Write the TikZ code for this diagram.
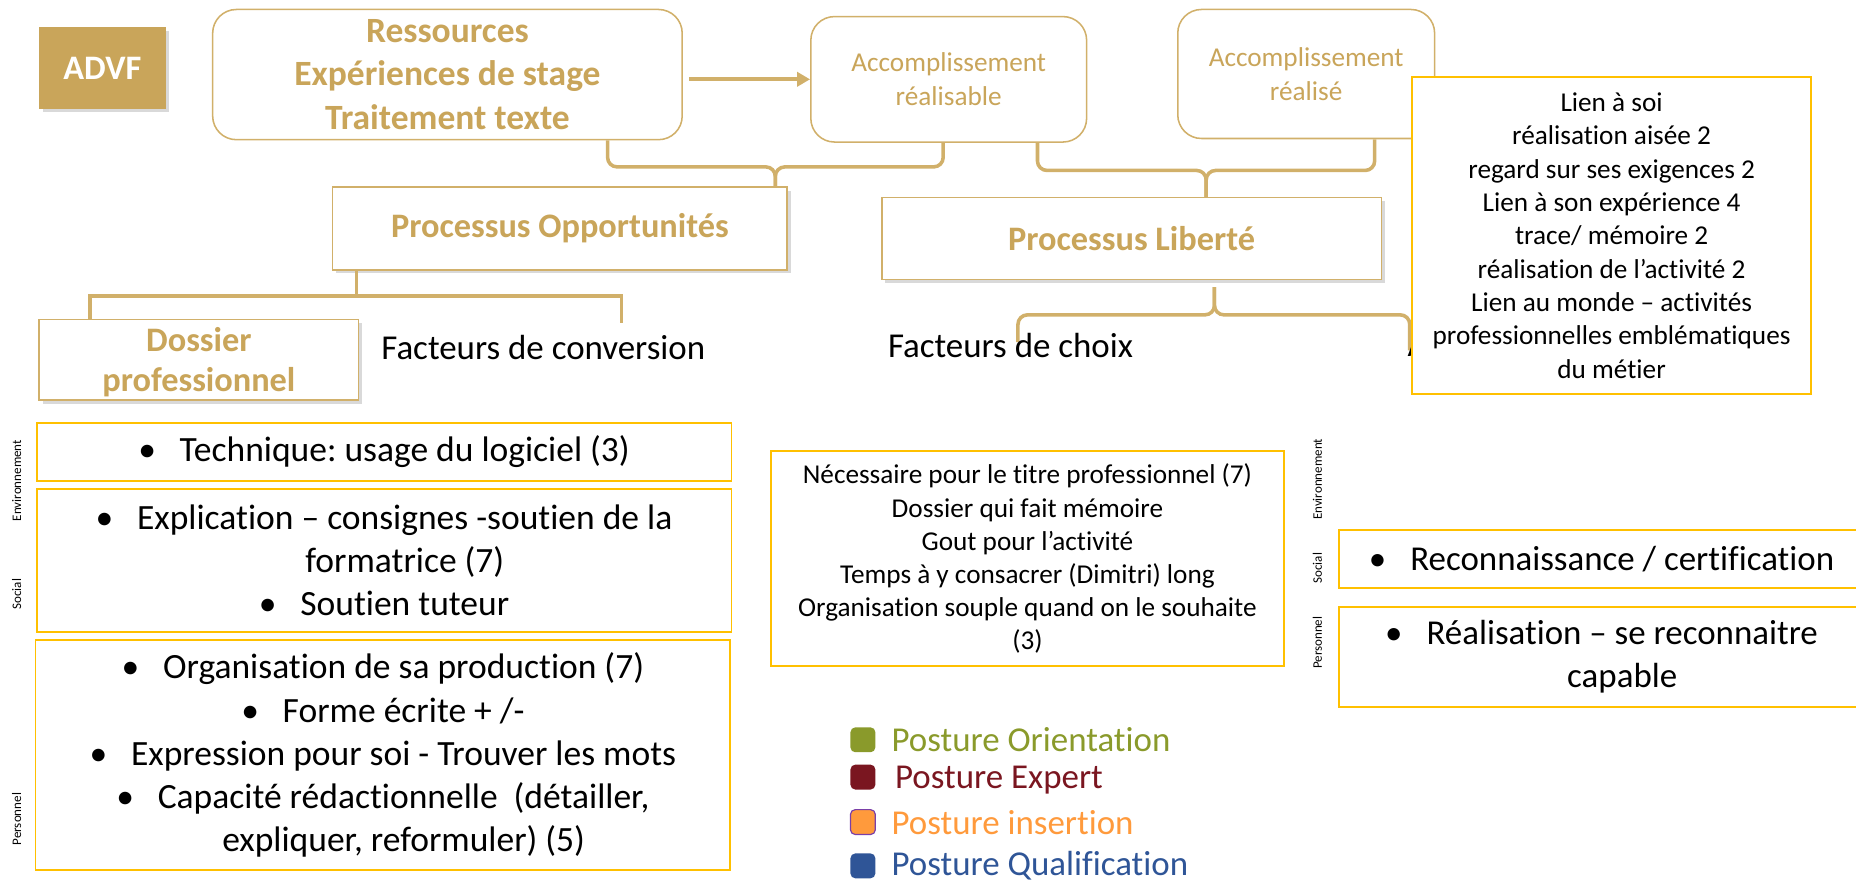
\documentclass[tikz,border=0pt]{standalone}
\usepackage{fontspec}
\setmainfont{Carlito}[Ligatures=NoCommon]
\usetikzlibrary{calc,shadows,arrows.meta}
\definecolor{gold}{HTML}{C9A55A}
\definecolor{goldline}{HTML}{D1B06A}
\definecolor{ybox}{HTML}{FFC000}
\definecolor{olive}{HTML}{8A9A2B}
\definecolor{expert}{HTML}{7A1620}
\definecolor{insertc}{HTML}{FF9A3C}
\definecolor{insertb}{HTML}{7A3FA8}
\definecolor{qualif}{HTML}{2F5597}
\newcommand{\fsz}[2]{\fontsize{#1}{#2}\selectfont}
\newcommand{\bul}{\makebox[35pt][l]{•}}
\frenchspacing
\tikzset{
  goldround/.style={draw=goldline, line width=1.3pt, rounded corners=20pt, fill=white, align=center, text=gold},
  procbox/.style={draw=goldline, line width=1.3pt, fill=white, drop shadow={opacity=0.3, shadow xshift=3pt, shadow yshift=-3pt}, text=gold, font=\bfseries\fsz{29}{35}, align=center},
  yb/.style={draw=ybox, line width=1.6pt, fill=white, align=center, inner sep=0pt},
  brace/.style={draw=goldline, line width=3pt, rounded corners=8pt},
  conn/.style={draw=goldline, line width=3pt},
  vlab/.style={rotate=90, font=\fsz{11}{13}, inner sep=0pt},
  legsq/.style={minimum size=21pt, rounded corners=4pt, inner sep=0pt},
  legtxt/.style={anchor=west, font=\fsz{29.5}{35}, inner sep=0pt},
  plain/.style={anchor=west, font=\fsz{29.5}{35}, inner sep=0pt}
}
\begin{document}
\begin{tikzpicture}[x=1pt,y=-1pt]
\useasboundingbox (0,0) rectangle (1568,744);
\clip (0,0) rectangle (1568,744);

% top row
\node[fill=gold, minimum width=107pt, minimum height=69pt, drop shadow={opacity=0.3, shadow xshift=3pt, shadow yshift=-3pt}, text=white, font=\bfseries\fsz{29}{35}] (advf) at (86.5,57.5) {ADVF};
\node[goldround, minimum width=396pt, minimum height=110pt, font=\bfseries\fsz{30}{36.5}] (res) at (378,63) {\raisebox{-3pt}{\parbox{390pt}{\centering Ressources\\Expériences de stage\\Traitement texte}}};
\node[goldround, minimum width=233pt, minimum height=106pt, font=\fsz{23}{28.5}] (acc1) at (801.5,67) {Accomplissement\\réalisable};
\node[goldround, minimum width=217pt, minimum height=109pt, font=\fsz{23}{28.5}] (acc2) at (1103.5,62.5) {Accomplissement\\réalisé};
\draw[conn, line width=3.5pt, -{Triangle[length=11pt,width=12pt]}] ([xshift=5pt]res.east |- acc1.west) -- (acc1.west);

% process boxes
\node[procbox, minimum width=384pt, minimum height=70pt] (po) at (473,193) {Processus Opportunités};
\node[procbox, minimum width=422pt, minimum height=69pt] (pl) at (956,201.5) {Processus Liberté};
\node[procbox, minimum width=270pt, minimum height=68pt] (dos) at (168,304) {};
\node[text=gold, font=\bfseries\fsz{29}{34}, align=center, inner sep=0pt] (dostxt) at (168,306) {Dossier\\professionnel};

% braces top
\coordinate (a1) at ($(res.south west)!0.84!(res.south east)$);
\coordinate (b1) at ($(acc1.south west)!0.48!(acc1.south east)$);
\coordinate (m1) at (655,141);
\draw[brace] (a1) |- (m1) -- (m1 |- po.north);
\draw[brace] (b1) |- (m1) -- (m1 |- po.north);
\coordinate (a2) at ($(acc1.south west)!0.82!(acc1.south east)$);
\coordinate (b2) at ($(acc2.south west)!0.765!(acc2.south east)$);
\coordinate (m2) at (1019,144);
\draw[brace] (a2) |- (m2) -- (m2 |- pl.north);
\draw[brace] (b2) |- (m2) -- (m2 |- pl.north);

% elbow under Processus Opportunites
\coordinate (ej) at (301,250);
\coordinate (ed) at (76,250);
\coordinate (fend) at (525,273);
\draw[conn] (ej |- po.south) -- (ej) -- (ed) -- (ed |- dos.north);
\draw[conn] (ej) -| (fend);

% brace under Processus Liberte
\coordinate (m3) at (1026,266);
\coordinate (b3l) at (860,289);
\coordinate (b3r) at (1191,296);
\draw[brace] ([yshift=-6pt]m3 |- pl.south) -- (m3) -| (b3l);
\draw[brace] ([yshift=-6pt]m3 |- pl.south) -- (m3) -| (b3r);

% factor labels
\node[plain] (fconv) at (322,294) {Facteurs de conversion};
\node[plain] (fchoix) at (750,292) {Facteurs de choix};
\node[plain] (facc) at (1189,292) {A};

% Lien box (covers part of acc2 and facc)
\node[yb, minimum width=337pt, minimum height=268pt, font=\fsz{23}{28.2}] (lien) at (1361.5,199) {Lien à soi\\réalisation aisée 2\\regard sur ses exigences 2\\Lien à son expérience 4\\trace/ mémoire 2\\réalisation de l’activité 2\\Lien au monde – activités\\professionnelles emblématiques\\du métier};

% left boxes
\node[yb, minimum width=587pt, minimum height=49pt, font=\fsz{30}{36.5}] (lenv) at (324.5,381.5) {\bul Technique: usage du logiciel (3)};
\node[yb, minimum width=587pt, minimum height=121pt, font=\fsz{30}{36.5}] (lsoc) at (324.5,473.5) {\bul Explication – consignes -soutien de la\\\hspace*{35pt}formatrice (7)\\\bul Soutien tuteur};
\node[yb, minimum width=587pt, minimum height=194pt, font=\fsz{30}{36.5}] (lper) at (323.5,638) {\bul Organisation de sa production (7)\\\bul Forme écrite + /-\\\bul Expression pour soi - Trouver les mots\\\bul Capacité rédactionnelle\ \ (détailler,\\\hspace*{35pt}expliquer, reformuler) (5)};

% middle box
\node[yb, minimum width=434pt, minimum height=182pt, font=\fsz{23}{28}] (mid) at (868,472) {Nécessaire pour le titre professionnel (7)\\Dossier qui fait mémoire\\Gout pour l’activité\\Temps à y consacrer (Dimitri) long\\Organisation souple quand on le souhaite\\(3)};

% right boxes
\node[yb, minimum width=444pt, minimum height=49pt, font=\fsz{29.5}{36}] (rsoc) at (1353,472.5) {\bul Reconnaissance / certification};
\node[yb, minimum width=444pt, minimum height=84pt, font=\fsz{29.5}{36}] (rper) at (1353,555) {\bul Réalisation – se reconnaitre\\\hspace*{35pt}capable};

% vertical labels
\node[vlab] (vl1) at (14,406) {Environnement};
\node[vlab] (vl2) at (14,502) {Social};
\node[vlab] (vl3) at (14,692) {Personnel};
\node[vlab] (vr1) at (1113,405) {Environnement};
\node[vlab] (vr2) at (1113,480) {Social};
\node[vlab] (vr3) at (1113,543) {Personnel};

% legend
\node[legsq, fill=olive] (sq1) at (729,625) {};
\node[legsq, fill=expert] (sq2) at (729,656.5) {};
\node[legsq, fill=insertc, draw=insertb, line width=1pt] (sq3) at (729,694.5) {};
\node[legsq, fill=qualif] (sq4) at (729,731.5) {};
\node[legtxt, text=olive] (lg1) at (753,625) {Posture Orientation};
\node[legtxt, text=expert] (lg2) at (756,659) {Posture Expert};
\node[legtxt, text=insertc] (lg3) at (753,695) {Posture insertion};
\node[legtxt, text=qualif] (lg4) at (753,731) {Posture Qualification};
\end{tikzpicture}
\end{document}
